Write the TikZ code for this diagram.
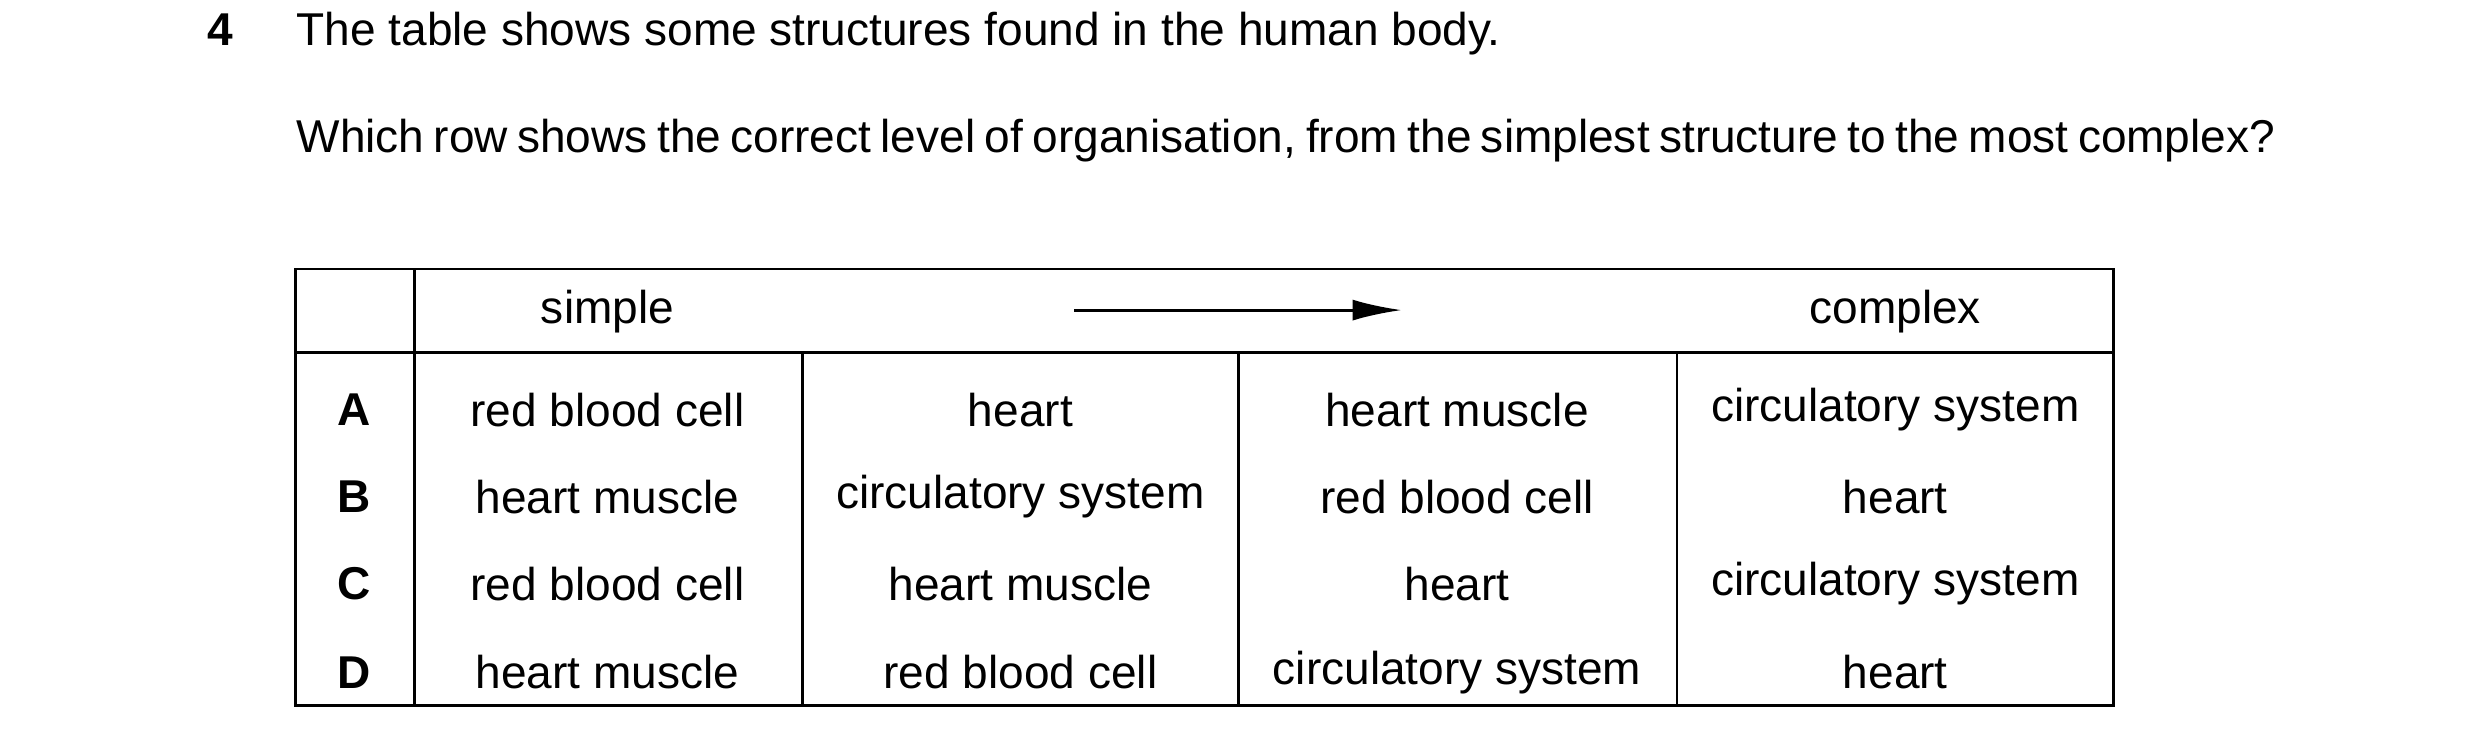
\documentclass[tikz,border=0pt]{standalone}
\usepackage{fontspec}
\setmainfont{Liberation Sans}
\usetikzlibrary{arrows.meta}
\begin{document}
\begin{tikzpicture}[x=0.01582cm,y=-0.01582cm,
  every node/.style={font=\fontsize{13.1}{15.6}\selectfont},
  cell/.style={anchor=center,inner sep=0pt},
  letter/.style={cell,font=\fontsize{13.1}{15.6}\selectfont\bfseries}]
\useasboundingbox (0,0) rectangle (1567.6,471.6);
\node[anchor=base west,inner sep=0pt,font=\fontsize{13.1}{15.6}\selectfont\bfseries] (num) at (131,29) {4};
\node[anchor=base west,inner sep=0pt] (stem) at (187,29) {The table shows some structures found in the human body.};
\node[anchor=north west,inner sep=0pt,text width=19.79cm,align=justify] (ask) at (187,75)
  {Which row shows the correct level of organisation, from the simplest structure to the most complex?};
% table frame
\draw[line width=0.8pt] (187,170) rectangle (1336,446);
\draw[line width=0.8pt] (187,223) -- (1336,223);
\draw[line width=0.8pt] (262,170) -- (262,446);
\foreach \x in {507,783,1060}
  \draw[line width=0.8pt] (\x,223) -- (\x,446);
% header
\node[cell] (simple) at (384,197) {simple};
\node[cell] (complex) at (1198,197) {complex};
\coordinate (arrA) at (679,196);
\coordinate (arrB) at (886,196);
\draw[line width=0.8pt,-{Latex[length=14pt,width=6pt]}] (arrA) -- (arrB);
% rows
\foreach \lab/\y/\a/\b/\c/\d in {
  A/259/red blood cell/heart/heart muscle/circulatory system,
  B/314/heart muscle/circulatory system/red blood cell/heart,
  C/369/red blood cell/heart muscle/heart/circulatory system,
  D/425/heart muscle/red blood cell/circulatory system/heart}{
  \node[letter] (row\lab) at (224,\y) {\lab};
  \node[cell] (row\lab a) at (384,\y) {\a};
  \node[cell] (row\lab b) at (645,\y) {\b};
  \node[cell] (row\lab c) at (921,\y) {\c};
  \node[cell] (row\lab d) at (1198,\y) {\d};
}
\end{tikzpicture}
\end{document}
